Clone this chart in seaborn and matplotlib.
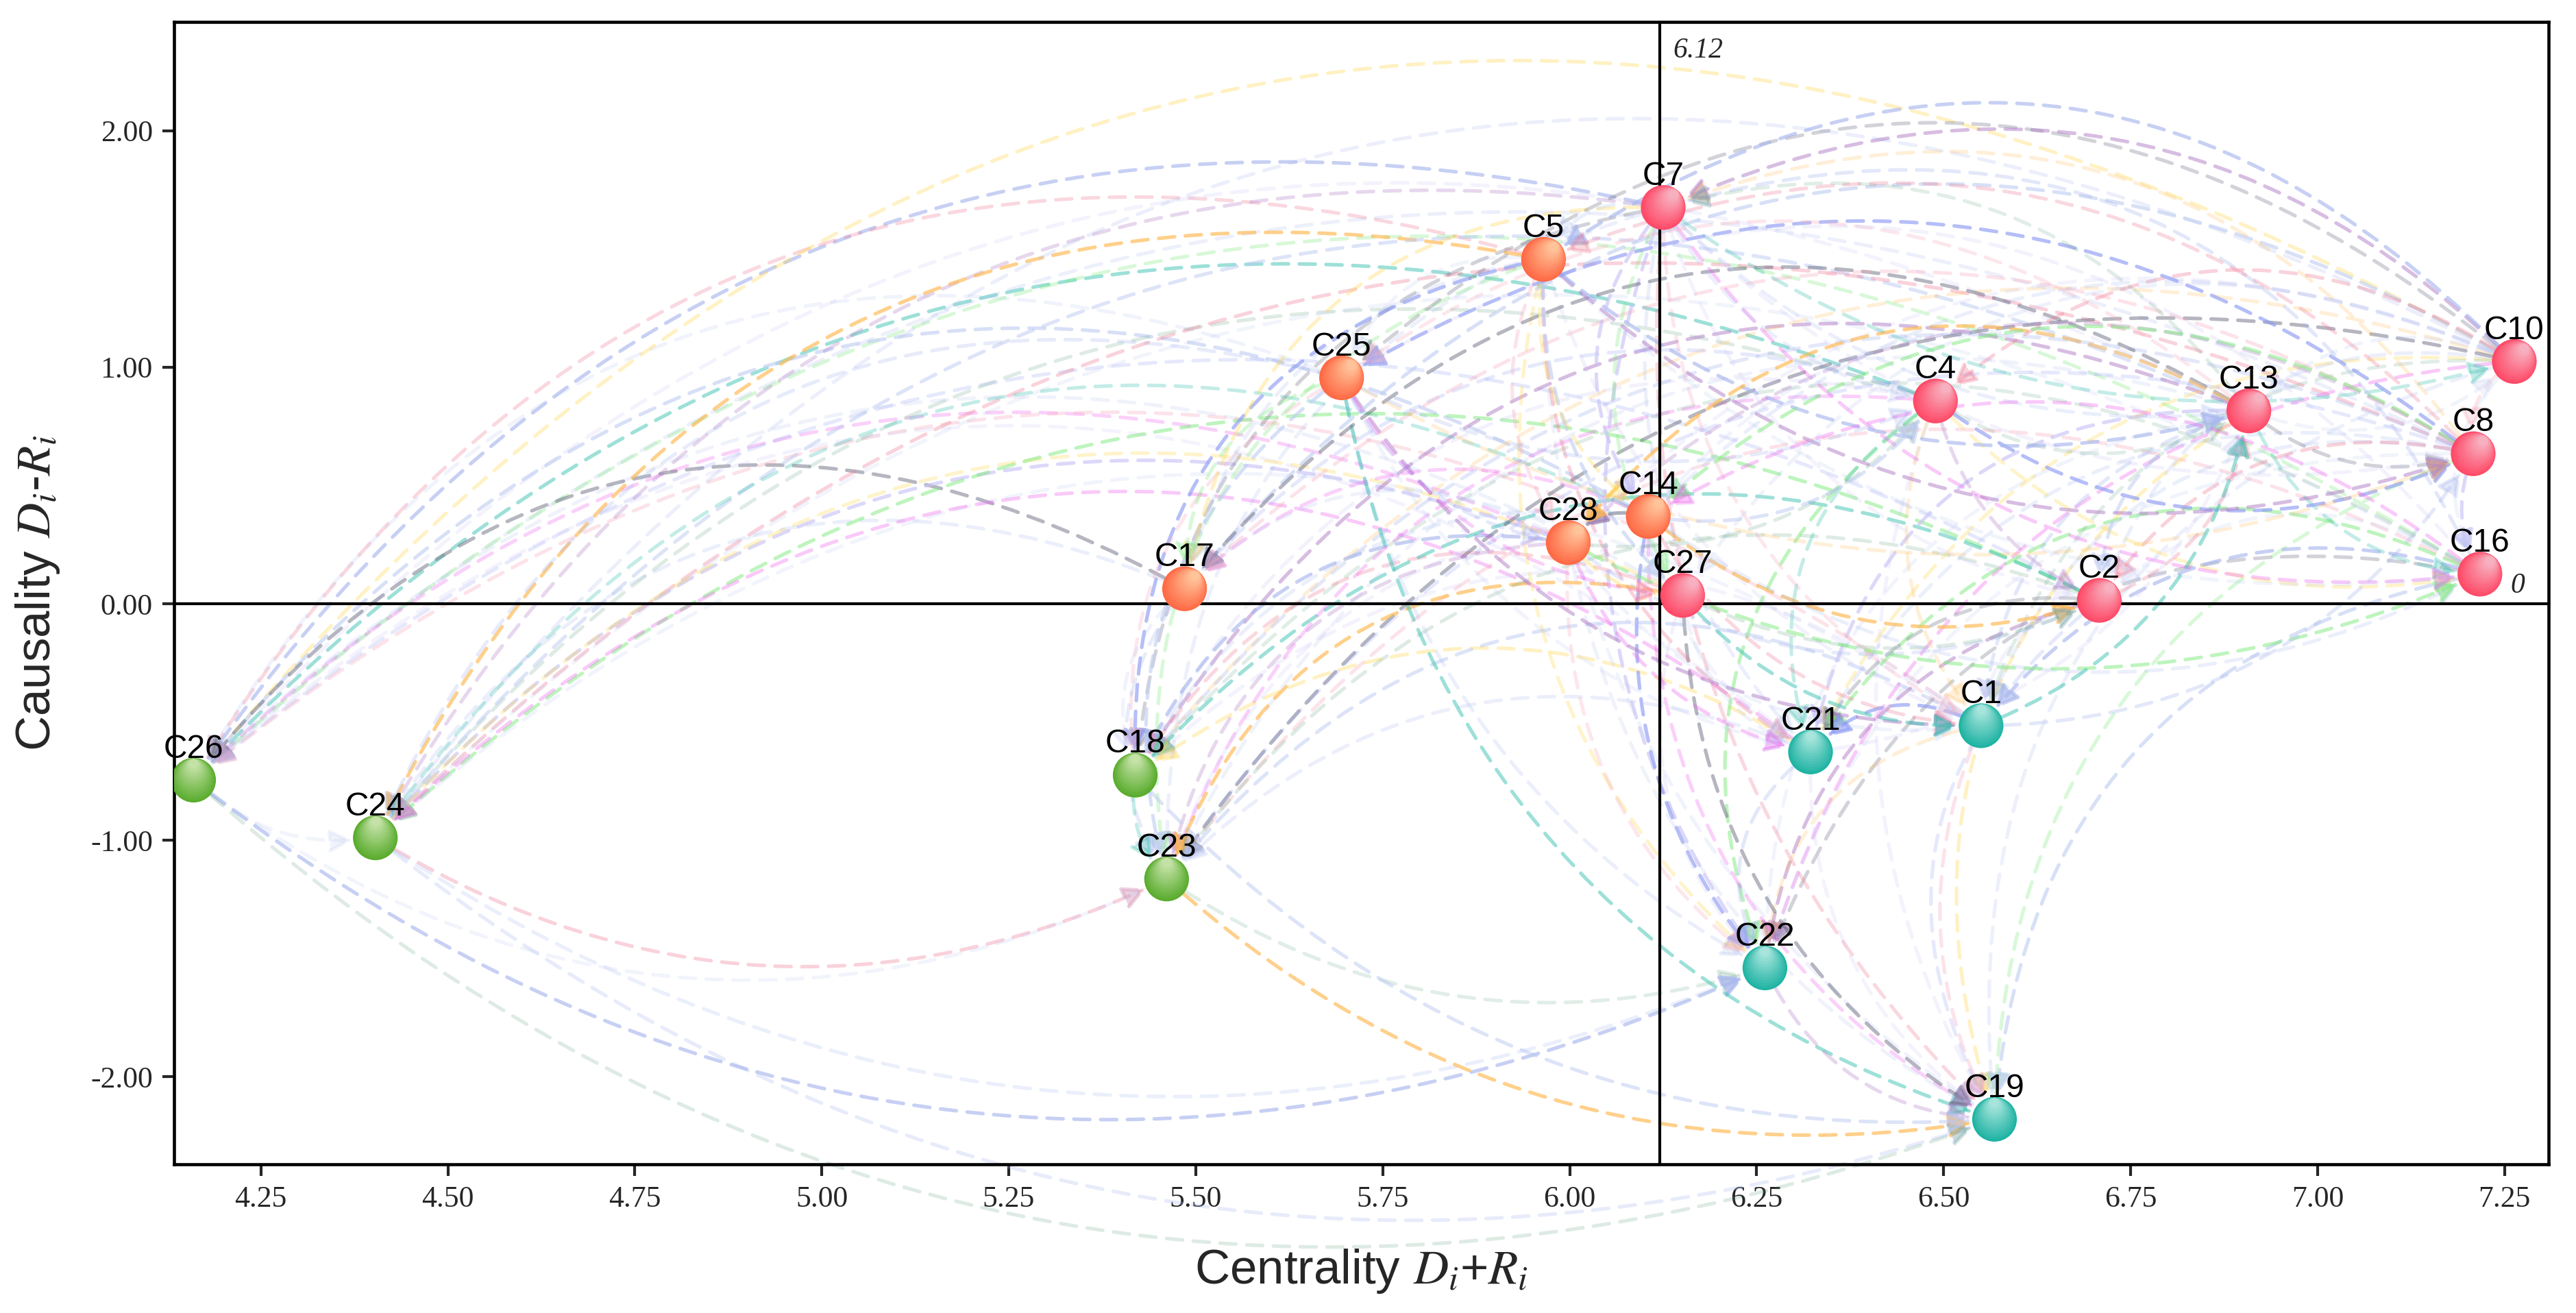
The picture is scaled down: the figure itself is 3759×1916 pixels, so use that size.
import numpy as np
import pandas as pd
import matplotlib
matplotlib.use("Agg")
import matplotlib.pyplot as plt
import matplotlib.transforms as mtransforms
from matplotlib.colors import to_rgb
from matplotlib.patches import FancyArrowPatch
import seaborn as sns

# node positions: centrality (D+R) and causality (D-R)
NODES = ["C1", "C2", "C4", "C5", "C7", "C8", "C10", "C13", "C14", "C16", "C17",
         "C18", "C19", "C21", "C22", "C23", "C24", "C25", "C26", "C27", "C28"]
CENTRALITY = [6.55, 6.708, 6.489, 5.965, 6.125, 7.208, 7.263, 6.908, 6.105, 7.217, 5.485,
              5.419, 6.568, 6.322, 6.261, 5.461, 4.403, 5.695, 4.160, 6.151, 5.998]
CAUSALITY = [-0.516, 0.014, 0.857, 1.456, 1.675, 0.634, 1.024, 0.815, 0.369, 0.125, 0.063,
             -0.725, -2.18, -0.627, -1.54, -1.164, -0.99, 0.955, -0.746, 0.035, 0.258]
GROUPS = ["teal", "red", "red", "orange", "red", "red", "red", "red", "orange", "red", "orange",
          "green", "teal", "teal", "teal", "green", "green", "orange", "green", "red", "orange"]

MEAN_CENTRALITY = 6.12

# influence relations (source -> target), grouped by target
EDGES = (
    [(s, "C26") for s in ["C7", "C5", "C25", "C4", "C13", "C10", "C8", "C16", "C14",
                          "C28", "C27", "C17", "C2", "C1", "C21"]]
    + [(s, "C24") for s in ["C7", "C5", "C25", "C4", "C13", "C10", "C8", "C16", "C14",
                            "C28", "C27", "C17", "C2", "C1", "C21", "C26"]]
    + [(s, "C18") for s in ["C7", "C5", "C25", "C4", "C13", "C10", "C8", "C16", "C14",
                            "C28", "C27", "C17", "C2", "C1", "C21"]]
    + [(s, "C23") for s in ["C7", "C5", "C25", "C4", "C13", "C10", "C8", "C16", "C14",
                            "C28", "C27", "C17", "C2", "C1", "C21", "C24", "C26", "C18"]]
    + [(s, "C22") for s in ["C7", "C5", "C25", "C4", "C13", "C10", "C8", "C16", "C14",
                            "C28", "C27", "C2", "C1", "C21", "C23", "C24", "C26"]]
    + [(s, "C19") for s in ["C7", "C5", "C25", "C4", "C13", "C10", "C8", "C16", "C14",
                            "C28", "C27", "C2", "C1", "C21", "C22", "C23", "C24", "C26", "C18"]]
    + [(s, "C21") for s in ["C7", "C5", "C25", "C4", "C13", "C10", "C8", "C16", "C14",
                            "C28", "C27", "C2", "C1"]]
    + [(s, "C1") for s in ["C7", "C5", "C25", "C4", "C13", "C10", "C8", "C16", "C14",
                           "C28", "C27", "C2"]]
    + [(s, "C17") for s in ["C7", "C5", "C25", "C10", "C14", "C28", "C13", "C4", "C8"]]
    + [(s, "C2") for s in ["C7", "C4", "C14", "C28", "C27", "C13", "C10", "C8", "C16"]]
    + [(s, "C16") for s in ["C13", "C8", "C4", "C14", "C28", "C10", "C7", "C5"]]
    + [(s, "C8") for s in ["C13", "C4", "C10", "C7", "C5", "C25", "C1"]]
    + [(s, "C13") for s in ["C4", "C7", "C5", "C2", "C10", "C1", "C21"]]
    + [(s, "C27") for s in ["C28", "C14", "C7", "C5", "C25", "C10"]]
    + [(s, "C28") for s in ["C14", "C25", "C5", "C10", "C8", "C13"]]
    + [(s, "C4") for s in ["C25", "C28", "C14", "C7", "C10"]]
    + [(s, "C10") for s in ["C13", "C7"]]
    + [(s, "C14") for s in ["C7", "C5", "C10", "C8", "C13", "C16"]]
    + [(s, "C25") for s in ["C5", "C10", "C8", "C13", "C16"]]
    + [(s, "C7") for s in ["C10", "C8", "C16", "C13"]]
    + [(s, "C5") for s in ["C7", "C10", "C8"]]
)

BASE = {"red": "#ff4a68", "orange": "#ff6a45", "teal": "#1fb3a3", "green": "#5aac2e"}
LIGHT = {"red": "#f6b8c6", "orange": "#ffcaa0", "teal": "#b0e8e0", "green": "#cce6b0"}
LIGHT_DIR = {"red": (0.6, 0.8), "orange": (0.6, 0.8), "teal": (0.0, 1.0), "green": (0.0, 1.0)}

EDGE_PALETTE = ["#a9b8ee", "#ef7590", "#b8c6f2", "#3cc2b2", "#cac4f6", "#ffd645",
                "#9db0ec", "#7eea7e", "#c2d0f2", "#ee5cee", "#b4c2ee", "#6c6e82",
                "#8e9cf4", "#f7aabd", "#c6c0f4", "#b07cc6", "#ffb84f", "#a9b8ee",
                "#5a9e7a", "#bccaf2"]
EDGE_ALPHA = [0.65, 0.28, 0.2, 0.5, 0.22, 0.32, 0.18, 0.3]

df = pd.DataFrame({"node": NODES, "x": CENTRALITY, "y": CAUSALITY, "group": GROUPS})
pos = {n: (x, y) for n, x, y in zip(NODES, CENTRALITY, CAUSALITY)}

sns.set_style("white")
plt.rcParams["font.family"] = ["Liberation Sans", "DejaVu Sans"]
plt.rcParams["mathtext.fontset"] = "stix"

fig = plt.figure(figsize=(12.53, 6.387), dpi=300)
ax = fig.add_axes([0.0676, 0.1133, 0.9218, 0.87])

ax.set_xlim(4.134, 7.309)
ax.set_ylim(-2.37, 2.46)

# relation arrows
for i, (s, t) in enumerate(EDGES):
    rad = 0.34 + 0.04 * (i % 3) if pos[s][0] > pos[t][0] else 0.24 + 0.03 * (i % 3)
    arr = FancyArrowPatch(pos[s], pos[t], connectionstyle=f"arc3,rad={rad}",
                          arrowstyle="-|>,head_length=0.55,head_width=0.28",
                          mutation_scale=12, linestyle=(0, (4.5, 3)), linewidth=1.25,
                          color=EDGE_PALETTE[i % len(EDGE_PALETTE)],
                          alpha=EDGE_ALPHA[i % len(EDGE_ALPHA)],
                          shrinkA=8, shrinkB=8, zorder=2, clip_on=False)
    ax.add_patch(arr)

ax.axvline(MEAN_CENTRALITY, color="black", linewidth=1.0, zorder=3)
ax.axhline(0, color="black", linewidth=1.0, zorder=3)

# nodes with a light top highlight
size = 245
sns.scatterplot(data=df, x="x", y="y", hue="group", palette=BASE, s=size,
                linewidth=0, legend=False, ax=ax, zorder=5)
r_pt = np.sqrt(size) / 2
n_layers = 14
for g in BASE:
    sub = df[df["group"] == g]
    c0, c1 = np.array(to_rgb(BASE[g])), np.array(to_rgb(LIGHT[g]))
    dx, dy = LIGHT_DIR[g]
    for k in range(1, n_layers):
        f = k / n_layers
        rk = r_pt * (1 - 0.85 * f)
        d = 0.8 * f * r_pt
        tr = mtransforms.offset_copy(ax.transData, fig=fig, x=dx * d, y=dy * d, units="points")
        ax.scatter(sub["x"], sub["y"], s=(2 * rk) ** 2, color=c0 + (c1 - c0) * f,
                   linewidths=0, transform=tr, zorder=5)

for n, x, y in zip(NODES, CENTRALITY, CAUSALITY):
    ax.annotate(n, (x, y), xytext=(0, 5.5), textcoords="offset points", ha="center",
                va="bottom", fontsize=11.5, color="black", zorder=6)

ax.text(6.138, 2.34, "6.12", ha="left", va="center", fontsize=10,
        family="Liberation Serif", style="italic")
ax.text(7.258, 0.075, "0", ha="left", va="center", fontsize=10,
        family="Liberation Serif", style="italic")

ax.set_xticks(np.arange(4.25, 7.26, 0.25))
ax.set_yticks([-2, -1, 0, 1, 2])
ax.xaxis.set_major_formatter(matplotlib.ticker.FormatStrFormatter("%.2f"))
ax.yaxis.set_major_formatter(matplotlib.ticker.FormatStrFormatter("%.2f"))
ax.tick_params(direction="out", length=4, width=1, labelsize=10.5, bottom=True, left=True)
for lab in ax.get_xticklabels() + ax.get_yticklabels():
    lab.set_family("Liberation Serif")
for sp in ax.spines.values():
    sp.set_color("black")
    sp.set_linewidth(1.1)

ax.set_xlabel("Centrality $D_i$+$R_i$", fontsize=17, labelpad=12)
ax.set_ylabel("Causality $D_i$-$R_i$", fontsize=17, labelpad=10)

fig.savefig("out.png", dpi=300)
plt.close(fig)
